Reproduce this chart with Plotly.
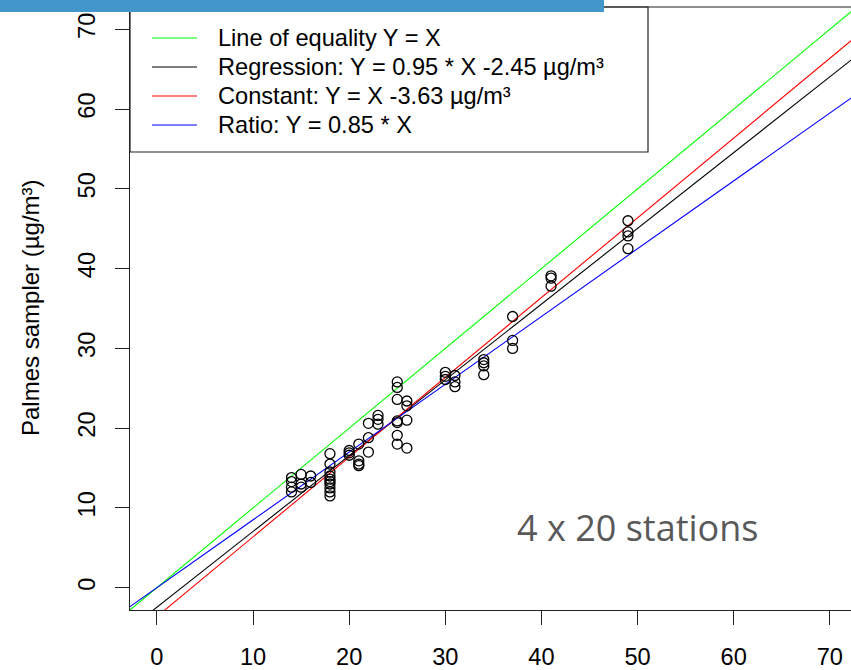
import plotly.graph_objects as go

# ---- data ----
station_x = [14, 14, 14, 14, 15, 15, 15, 16, 16,
             18, 18, 18, 18, 18, 18, 18, 18, 18, 18,
             20, 20, 20, 21, 21, 21, 21, 22, 22, 22, 23, 23, 23,
             25, 25, 25, 25, 25, 25, 25, 26, 26, 26, 26,
             30, 30, 30, 31, 31, 31, 34, 34, 34, 34,
             37, 37, 37, 41, 41, 41, 49, 49, 49, 49]
palmes_y = [13.8, 13.3, 12.6, 12.0, 14.2, 13.0, 12.6, 14.0, 13.2,
            16.8, 15.5, 14.5, 14.0, 13.6, 13.3, 13.0, 12.5, 12.0, 11.5,
            17.2, 16.9, 16.6, 18.0, 15.9, 15.5, 15.3, 20.6, 18.8, 17.0, 21.6, 21.1, 20.5,
            25.8, 25.1, 23.6, 20.9, 20.7, 19.1, 18.0, 23.4, 22.8, 21.0, 17.5,
            27.0, 26.5, 26.1, 26.6, 25.8, 25.2, 28.6, 28.2, 27.8, 26.7,
            34.0, 31.0, 30.0, 39.1, 38.8, 37.8, 46.0, 44.6, 44.1, 42.5]

line_names = ["Line of equality Y = X",
              "Regression: Y = 0.95 * X -2.45 µg/m³",
              "Constant: Y = X -3.63 µg/m³",
              "Ratio: Y = 0.85 * X"]
line_slopes = [1.0, 0.95, 1.0, 0.85]
line_intercepts = [0.0, -2.45, -3.63, 0.0]
line_colors = ["#00FF00", "#000000", "#FF0000", "#0000FF"]

x_ticks = [0, 10, 20, 30, 40, 50, 60, 70]
y_ticks = [0, 10, 20, 30, 40, 50, 60, 70]
annotation_text = "4 x 20 stations"
y_title = "Palmes sampler (µg/m³)"

# ---- layout geometry ----
W, H = 851, 670
ML, MR, MT, MB = 130, 0, 7, 60
PW, PH = W - ML - MR, H - MT - MB
XR = [-2.8, 72.2]
YR = [-2.8, 72.8]

def px_x(p):  # pixel -> paper x
    return (p - ML) / PW

def px_y(p):  # pixel -> paper y
    return 1 - (p - MT) / PH

FONT = "Liberation Sans, Arial, sans-serif"
FS = 23.6

fig = go.Figure()

# lines (abline style, clipped to the axes)
lx = [-10, 100]
for name, m, b, c in zip(line_names, line_slopes, line_intercepts, line_colors):
    fig.add_trace(go.Scatter(x=lx, y=[m * v + b for v in lx], mode="lines",
                             line=dict(color=c, width=1.1), name=name,
                             showlegend=False, hoverinfo="skip"))

# points
fig.add_trace(go.Scatter(x=station_x, y=palmes_y, mode="markers",
                         marker=dict(symbol="circle-open", size=10, color="black",
                                     line=dict(width=1.3, color="black")),
                         showlegend=False))

shapes = []
annotations = []

# legend box
lb_l, lb_r, lb_t, lb_b = 130, 648, 7, 152
shapes.append(dict(type="rect", xref="paper", yref="paper",
                   x0=px_x(lb_l), x1=px_x(lb_r), y0=px_y(lb_b), y1=px_y(lb_t),
                   line=dict(color="#222222", width=1.2), fillcolor="white", layer="above"))
rows = [38, 67, 96, 125]
for name, c, ry in zip(line_names, line_colors, rows):
    shapes.append(dict(type="line", xref="paper", yref="paper",
                       x0=px_x(152), x1=px_x(197), y0=px_y(ry), y1=px_y(ry),
                       line=dict(color=c, width=1.2), layer="above"))
    annotations.append(dict(xref="paper", yref="paper", x=px_x(216), y=px_y(ry),
                            xanchor="left", yanchor="middle", showarrow=False,
                            text=name, font=dict(family=FONT, size=FS, color="black")))

# top border (plot box)
shapes.append(dict(type="line", xref="paper", yref="paper", x0=0, x1=1.1, y0=1, y1=1,
                   line=dict(color="#222222", width=1.2), layer="above"))

# blue banner at top
shapes.append(dict(type="rect", xref="paper", yref="paper",
                   x0=px_x(-2), x1=px_x(604), y0=px_y(12), y1=px_y(-2),
                   line=dict(width=0), fillcolor="#4396CA", layer="above"))

# 4 x 20 stations
annotations.append(dict(xref="paper", yref="paper", x=px_x(637), y=px_y(527),
                        xanchor="center", yanchor="middle", showarrow=False,
                        text=annotation_text,
                        font=dict(family="Open Sans, Noto Sans, sans-serif", size=36, color="#595959")))

# y axis title
annotations.append(dict(xref="paper", yref="paper", x=px_x(30), y=px_y(308),
                        xanchor="center", yanchor="middle", showarrow=False, textangle=-90,
                        text=y_title, font=dict(family=FONT, size=24, color="black")))

fig.update_layout(
    width=W, height=H,
    margin=dict(l=ML, r=MR, t=MT, b=MB, pad=0),
    plot_bgcolor="white", paper_bgcolor="white",
    shapes=shapes, annotations=annotations,
    showlegend=False,
)
fig.update_xaxes(range=XR, tickmode="array", tickvals=x_ticks,
                 ticktext=[str(v) for v in x_ticks], automargin=False,
                 showgrid=False, zeroline=False, showline=True, linecolor="#222222",
                 linewidth=1.2, ticks="outside", ticklen=14, tickcolor="#222222",
                 tickwidth=1.2, ticklabelstandoff=12,
                 tickfont=dict(family=FONT, size=FS, color="black"))
fig.update_yaxes(range=YR, tickmode="array", tickvals=y_ticks,
                 ticktext=[str(v) for v in y_ticks], tickangle=-90, automargin=False,
                 showgrid=False, zeroline=False, showline=True, linecolor="#222222",
                 linewidth=1.2, ticks="outside", ticklen=14, tickcolor="#222222",
                 tickwidth=1.2, ticklabelstandoff=10,
                 tickfont=dict(family=FONT, size=FS, color="black"))

fig.write_html("out.html", config={"displayModeBar": False},
               post_script="document.body.style.margin='0';document.body.style.overflow='hidden';")
